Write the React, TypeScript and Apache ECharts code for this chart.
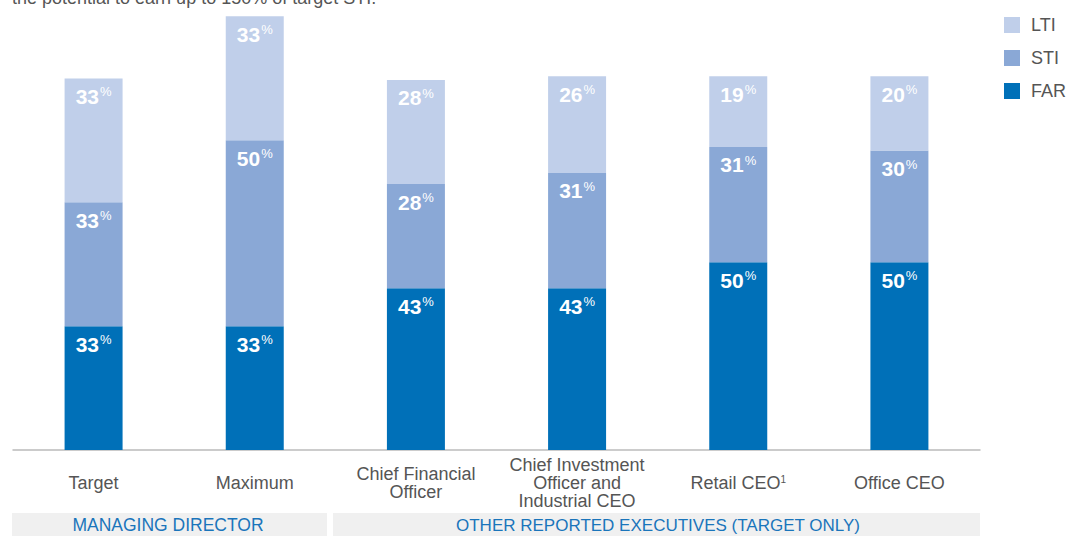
import React, { useEffect, useRef } from "react";
import * as echarts from "echarts";

const categories = [
  "Target",
  "Maximum",
  "Chief Financial\nOfficer",
  "Chief Investment\nOfficer and\nIndustrial CEO",
  "Retail CEO{sup|1}",
  "Office CEO",
];
const farValues = [33.3, 33.3, 43.5, 43.5, 50.5, 50.5];
const stiValues = [33.3, 50, 28, 31, 31, 30];
const ltiValues = [33.3, 33.3, 28, 26, 19, 20];
const farLabels = [33, 33, 43, 43, 50, 50];
const stiLabels = [33, 50, 28, 31, 31, 30];
const ltiLabels = [33, 33, 28, 26, 19, 20];
const groupNames = ["MANAGING DIRECTOR", "OTHER REPORTED EXECUTIVES (TARGET ONLY)"];
const headerText = "the potential to earn up to 150% of target STI.";

const FONT = "'Liberation Sans', Arial, Helvetica, sans-serif";

export default function App() {
  const ref = useRef<HTMLDivElement>(null);
  useEffect(() => {
    if (!ref.current) return;
    const chart = echarts.init(ref.current, null, { renderer: "svg" });
    const mkLabel = (labels: number[]) => ({
      show: true,
      position: "insideTop",
      distance: 6,
      formatter: (p: any) => `{n|${labels[p.dataIndex]}}{p|%}`,
      rich: {
        n: { fontSize: 21, fontWeight: "bold", color: "#fff", fontFamily: FONT, lineHeight: 24 },
        p: { fontSize: 13, color: "#fff", fontFamily: FONT, lineHeight: 24, padding: [0, 0, 9, 1] },
      },
    });
    const mkSeries = (name: string, data: number[], color: string, labels: number[]) => ({
      name,
      type: "bar",
      stack: "total",
      data,
      barWidth: 58,
      itemStyle: { color },
      label: mkLabel(labels),
      emphasis: { disabled: true },
    });
    chart.setOption({
      animation: false,
      grid: { left: 13, right: 93, top: 0, bottom: 86, containLabel: false },
      legend: {
        orient: "vertical",
        right: 2,
        top: 11,
        itemWidth: 16,
        itemHeight: 16,
        itemGap: 15,
        icon: "rect",
        data: ["LTI", "STI", "FAR"],
        textStyle: { fontSize: 18, color: "#555", fontFamily: FONT, padding: [0, 0, 0, 6] },
      },
      xAxis: {
        type: "category",
        data: categories,
        axisLine: { lineStyle: { color: "#bbb", width: 1.5 } },
        axisTick: { show: false },
        axisLabel: {
          interval: 0,
          margin: 33,
          verticalAlign: "middle",
          fontSize: 18,
          lineHeight: 18,
          color: "#555",
          fontFamily: FONT,
          rich: {
            sup: { fontSize: 10, color: "#555", fontFamily: FONT, padding: [0, 0, 8, 0] },
          },
        },
      },
      yAxis: {
        type: "value",
        min: 0,
        max: 121,
        show: false,
        splitLine: { show: false },
      },
      graphic: [
        {
          type: "text",
          x: 12,
          y: 7,
          style: { text: headerText, fontSize: 18, fill: "#555", fontFamily: FONT, verticalAlign: "bottom" },
        },
        { type: "rect", shape: { x: 12, y: 513, width: 315, height: 23 }, style: { fill: "#f0f0f0" } },
        { type: "rect", shape: { x: 333, y: 513, width: 647, height: 23 }, style: { fill: "#f0f0f0" } },
        {
          type: "text",
          x: 168,
          y: 525,
          style: { text: groupNames[0], fontSize: 17.5, fill: "#1a75bb", fontFamily: FONT, align: "center", verticalAlign: "middle" },
        },
        {
          type: "text",
          x: 658,
          y: 525,
          style: { text: groupNames[1], fontSize: 17, fill: "#1a75bb", fontFamily: FONT, align: "center", verticalAlign: "middle" },
        },
      ],
      series: [
        mkSeries("FAR", farValues, "#0070b8", farLabels),
        mkSeries("STI", stiValues, "#8aa8d6", stiLabels),
        mkSeries("LTI", ltiValues, "#c0cfea", ltiLabels),
      ],
    });
    return () => chart.dispose();
  }, []);
  return (
    <div
      ref={ref}
      style={{ position: "fixed", left: 0, top: 0, width: 1073, height: 536, background: "#fff" }}
    />
  );
}
